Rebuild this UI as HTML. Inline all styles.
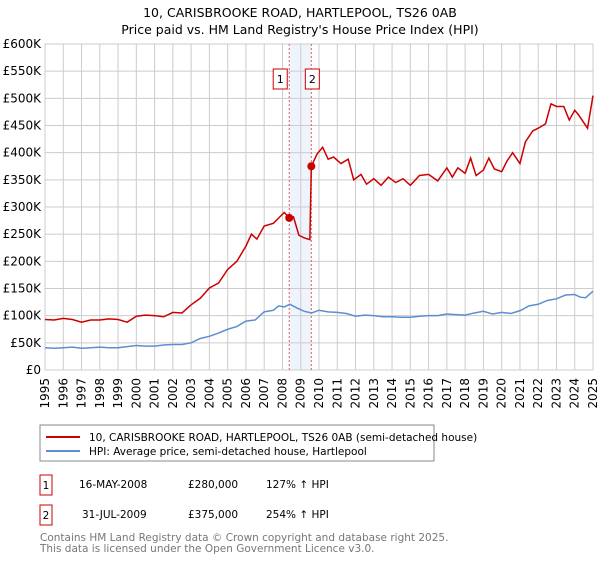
<!DOCTYPE html>
<html><head><meta charset="utf-8"><style>
body{margin:0;background:#fff;font-family:"Liberation Sans","DejaVu Sans",sans-serif;}
svg text{font-family:"DejaVu Sans","Liberation Sans",sans-serif;}
</style></head><body>
<svg id="c" width="600" height="560" xmlns="http://www.w3.org/2000/svg">
<text x="300" y="17" text-anchor="middle" font-size="12.5">10, CARISBROOKE ROAD, HARTLEPOOL, TS26 0AB</text>
<text x="300" y="34" text-anchor="middle" font-size="12.5">Price paid vs. HM Land Registry's House Price Index (HPI)</text>
<g id="grid"></g><g id="marks"></g><g id="axes"></g>
<rect x="40" y="425" width="394" height="36" fill="#fff" stroke="#888"/>
<line x1="46" y1="437" x2="80" y2="437" stroke="#cc0000" stroke-width="2"/>
<text x="89" y="441" font-size="10.5">10, CARISBROOKE ROAD, HARTLEPOOL, TS26 0AB (semi-detached house)</text>
<line x1="46" y1="451" x2="80" y2="451" stroke="#5b8fd0" stroke-width="2"/>
<text x="89" y="455" font-size="10.5">HPI: Average price, semi-detached house, Hartlepool</text>
<rect x="40" y="475" width="12" height="20" fill="#fff" stroke="#cc0000"/>
<text x="46" y="489" text-anchor="middle" font-size="10.5">1</text>
<text x="79" y="488" font-size="10.5">16-MAY-2008</text>
<text x="188" y="488" font-size="10.5">£280,000</text>
<text x="266" y="488" font-size="10.5">127% ↑ HPI</text>
<rect x="40" y="505" width="12" height="20" fill="#fff" stroke="#cc0000"/>
<text x="46" y="519" text-anchor="middle" font-size="10.5">2</text>
<text x="82" y="518" font-size="10.5">31-JUL-2009</text>
<text x="188" y="518" font-size="10.5">£375,000</text>
<text x="266" y="518" font-size="10.5">254% ↑ HPI</text>
<text x="40" y="541" font-size="10.5" fill="#777">Contains HM Land Registry data © Crown copyright and database right 2025.</text>
<text x="40" y="552" font-size="10.5" fill="#777">This data is licensed under the Open Government Licence v3.0.</text>
</svg>
<script>
const yTicks=[0,50,100,150,200,250,300,350,400,450,500,550,600];
const yTickLabels=["£0","£50K","£100K","£150K","£200K","£250K","£300K","£350K","£400K","£450K","£500K","£550K","£600K"];
const xYears=[1995,1996,1997,1998,1999,2000,2001,2002,2003,2004,2005,2006,2007,2008,2009,2010,2011,2012,2013,2014,2015,2016,2017,2018,2019,2020,2021,2022,2023,2024,2025];
const hpiT=[1995,1995.5,1996,1996.5,1997,1997.5,1998,1998.5,1999,1999.5,2000,2000.5,2001,2001.5,2002,2002.5,2003,2003.5,2004,2004.5,2005,2005.5,2006,2006.5,2007,2007.5,2007.8,2008.1,2008.4,2008.8,2009.2,2009.6,2010,2010.5,2011,2011.5,2012,2012.5,2013,2013.5,2014,2014.5,2015,2015.5,2016,2016.5,2017,2017.5,2018,2018.5,2019,2019.5,2020,2020.5,2021,2021.5,2022,2022.5,2023,2023.5,2024,2024.3,2024.6,2025];
const hpiV=[41,40,41,42,40,41,42,41,41,43,45,44,44,46,47,47,50,58,62,68,75,80,90,92,107,110,118,116,121,114,108,105,110,107,106,104,99,101,100,98,98,97,97,99,100,100,103,102,101,105,108,103,106,104,109,118,121,128,131,138,139,134,133,145];
const priceT=[1995,1995.5,1996,1996.5,1997,1997.5,1998,1998.5,1999,1999.5,2000,2000.5,2001,2001.5,2002,2002.5,2003,2003.5,2004,2004.5,2005,2005.5,2006,2006.3,2006.6,2007,2007.5,2007.8,2008.1,2008.37,2008.6,2008.9,2009.2,2009.5,2009.58,2009.9,2010.2,2010.5,2010.8,2011.2,2011.6,2011.9,2012.3,2012.6,2013,2013.4,2013.8,2014.2,2014.6,2015,2015.5,2016,2016.5,2017,2017.3,2017.6,2018,2018.3,2018.6,2019,2019.3,2019.6,2020,2020.3,2020.6,2021,2021.3,2021.7,2022,2022.4,2022.7,2023,2023.4,2023.7,2024,2024.2,2024.4,2024.7,2025];
const priceV=[93,92,95,93,88,92,92,94,93,88,99,101,100,98,106,105,120,132,151,160,185,200,228,250,241,265,270,280,290,280,282,248,243,240,375,398,410,388,392,380,388,350,360,342,352,340,355,345,352,340,358,360,348,372,355,372,362,390,358,368,390,370,365,385,400,380,420,440,445,453,490,485,485,460,478,470,460,445,505];
const sales=[[2008.37,280],[2009.58,375]];
const L=45,R=593,T=44,B=370;
const xs=y=>L+(y-1995)/30*(R-L), ys=v=>B-v/600*(B-T);
const NS="http://www.w3.org/2000/svg";
function mk(p,t,a){const e=document.createElementNS(NS,t);for(const k in a)e.setAttribute(k,a[k]);p.appendChild(e);return e;}
const g=document.getElementById('grid'),m=document.getElementById('marks'),ax=document.getElementById('axes');
const band=mk(g,'rect',{x:xs(2008.37),y:T,width:xs(2009.58)-xs(2008.37),height:B-T,fill:'#eef3fc'});


yTicks.forEach((v,i)=>{
 const l=mk(g,'line',{x1:L,x2:R,y1:ys(v),y2:ys(v),stroke:'#ccc'});
 
 
 const t=mk(ax,'text',{x:L-4,y:ys(v)+4,'text-anchor':'end','font-size':'12'});
 t.textContent=yTickLabels[i];
 
 
});
xYears.forEach(yr=>{
 const l=mk(g,'line',{x1:xs(yr),x2:xs(yr),y1:T,y2:B,stroke:'#ccc'});
 
 
 const t=mk(ax,'text',{x:0,y:0,'text-anchor':'end','font-size':'12',transform:`translate(${xs(yr)+4},${B+8}) rotate(-90)`});
 t.textContent=yr;
 
 
});
sales.forEach((s,i)=>{
 const l=mk(m,'line',{x1:xs(s[0]),x2:xs(s[0]),y1:T,y2:B,stroke:'#e06060','stroke-dasharray':'2,2'});
 
 
});
const hp=mk(m,'polyline',{points:hpiT.map((t,i)=>xs(t)+','+ys(hpiV[i])).join(' '),fill:'none',stroke:'#5b8fd0','stroke-width':1.5});


const pp=mk(m,'polyline',{points:priceT.map((t,i)=>xs(t)+','+ys(priceV[i])).join(' '),fill:'none',stroke:'#cc0000','stroke-width':1.5});


sales.forEach((s,i)=>{
 const c=mk(m,'circle',{cx:xs(s[0]),cy:ys(s[1]),r:4,fill:'#cc0000'});
 
 
 const bx=xs(s[0])+(i==0?-11:-1);
 const r=mk(m,'rect',{x:bx-5,y:69,width:14,height:20,fill:'#fff',stroke:'#cc0000'});
 
 
 const t=mk(m,'text',{x:bx+2,y:83,'text-anchor':'middle','font-size':'11'});
 t.textContent=String(i+1);
 
 
});
</script>
</body></html>
